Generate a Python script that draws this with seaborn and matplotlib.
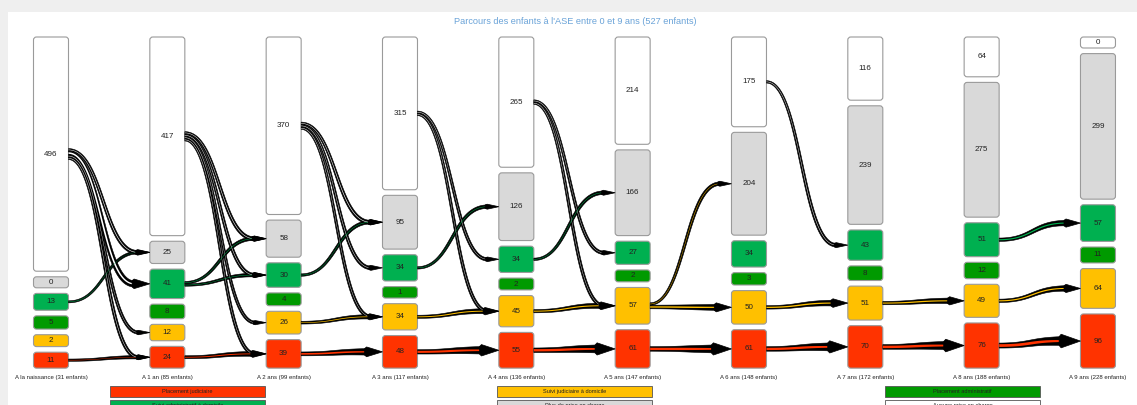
import numpy as np
import matplotlib
matplotlib.use("Agg")
import matplotlib.pyplot as plt
import seaborn as sns
from matplotlib.patches import FancyBboxPatch, Rectangle, Polygon

# --- données ---
ages = ["A la naissance", "A 1 an", "A 2 ans", "A 3 ans", "A 4 ans",
        "A 5 ans", "A 6 ans", "A 7 ans", "A 8 ans", "A 9 ans"]
categories = ["Aucune prise en charge", "Plus de prise en charge",
              "Suivi administratif à domicile", "Placement administratif",
              "Suivi judiciaire à domicile", "Placement judiciaire"]
couleurs = ["#ffffff", "#d9d9d9", "#00b050", "#009a00", "#ffc000", "#ff3300"]

aucune = [496, 417, 370, 315, 265, 214, 175, 116, 64, 0]
plus_pec = [0, 25, 58, 95, 126, 166, 204, 239, 275, 299]
suivi_adm = [13, 41, 30, 34, 34, 27, 34, 43, 51, 57]
placement_adm = [5, 8, 4, 1, 2, 2, 3, 8, 12, 11]
suivi_jud = [2, 12, 26, 34, 45, 57, 50, 51, 49, 64]
placement_jud = [11, 24, 39, 48, 55, 61, 61, 70, 76, 96]
effectifs = [aucune, plus_pec, suivi_adm, placement_adm, suivi_jud, placement_jud]
total = 527

# flux : étape de départ, catégorie de départ, catégorie d'arrivée, nb d'enfants
flux_etape = [0, 0, 0, 0, 0, 0,
              1, 1, 1, 1, 1, 1, 1,
              2, 2, 2, 2, 2, 2,
              3, 3, 3, 3, 3,
              4, 4, 4, 4, 4,
              5, 5, 5,
              6, 6, 6,
              7, 7,
              8, 8, 8]
flux_de = [0, 0, 0, 0, 2, 5,
           0, 0, 0, 0, 2, 2, 5,
           0, 0, 0, 2, 4, 5,
           0, 0, 2, 4, 5,
           0, 0, 2, 4, 5,
           4, 4, 5,
           0, 4, 5,
           4, 5,
           2, 4, 5]
flux_vers = [1, 2, 4, 5, 1, 5,
             1, 2, 4, 5, 1, 2, 5,
             1, 2, 4, 1, 4, 5,
             2, 4, 1, 4, 5,
             2, 4, 1, 4, 5,
             1, 4, 5,
             2, 4, 5,
             4, 5,
             2, 4, 5]
flux_n = [15, 35, 9, 12, 6, 10,
          14, 12, 8, 10, 12, 12, 22,
          15, 12, 10, 12, 18, 36,
          10, 10, 12, 24, 44,
          10, 10, 12, 26, 48,
          12, 32, 48,
          12, 30, 48,
          28, 50,
          28, 28, 55]

legende_ordre = [[5, 2], [4, 1], [3, 0]]

sns.set_style("white")
plt.rcParams["font.family"] = ["Liberation Sans", "DejaVu Sans"]

W, H = 1137, 405
fig = plt.figure(figsize=(W / 100, H / 100), dpi=100, facecolor="white")
ax = fig.add_axes([0, 0, 1, 1])
ax.patch.set_visible(False)

# échelles
pas_px = 116.33
x0_px = 51
px_par_enfant = 0.45
h_min = 11 / px_par_enfant
ecart = 5.6 / px_par_enfant
haut_px = 37
ax.set_xlim(-x0_px / pas_px, (W - x0_px) / pas_px)
ax.set_ylim((H - haut_px) / px_par_enfant, -haut_px / px_par_enfant)
ax.axis("off")

n_col = len(ages)
larg = 35 / pas_px
tops = np.zeros((6, n_col))
hauts = np.zeros((6, n_col))
for i in range(n_col):
    y = 0
    for c in range(6):
        h = h_min + effectifs[c][i]
        tops[c, i] = y
        hauts[c, i] = h
        y += h + ecart
bas = y - ecart

# boîtes
for i in range(n_col):
    for c in range(6):
        ax.add_patch(FancyBboxPatch(
            (i - larg / 2, tops[c, i]), larg, hauts[c, i],
            boxstyle=f"round,pad=0,rounding_size={3 / pas_px}",
            mutation_aspect=pas_px / px_par_enfant,
            fc=couleurs[c], ec="#9a9a9a", lw=0.8, zorder=2))
        ax.text(i, tops[c, i] + hauts[c, i] / 2, str(effectifs[c][i]),
                ha="center", va="center", fontsize=5.8, color="#222222", zorder=3)
    n_enf = total - aucune[i] - plus_pec[i]
    ax.text(i, bas + 9 / px_par_enfant, f"{ages[i]} ({n_enf} enfants)",
            ha="center", va="center", fontsize=4.3, color="#222222")

# flux
to_px = ax.transData.transform
to_data = ax.transData.inverted().transform


def courbe(p0, p3, n=90):
    t = np.linspace(0, 1, n)[:, None]
    mx = (p0[0] + p3[0]) / 2
    p1 = np.array([mx, p0[1]])
    p2 = np.array([mx, p3[1]])
    pts = (1 - t) ** 3 * p0 + 3 * (1 - t) ** 2 * t * p1 + 3 * (1 - t) * t ** 2 * p2 + t ** 3 * p3
    d = 3 * (1 - t) ** 2 * (p1 - p0) + 6 * (1 - t) * t * (p2 - p1) + 3 * t ** 2 * (p3 - p2)
    nrm = np.column_stack([-d[:, 1], d[:, 0]])
    nrm /= np.linalg.norm(nrm, axis=1)[:, None]
    return pts, nrm, t[:, 0]


def largeur(n):
    return 1.6 + 0.2 * n


sources = {}
for k in range(len(flux_n)):
    sources.setdefault((flux_etape[k], flux_de[k]), []).append(k)

for (e, c), ks in sources.items():
    ks = sorted(ks, key=lambda k: flux_vers[k])
    epais = [0.3 * largeur(flux_n[k]) + 1.2 for k in ks]
    src = to_px([[e + larg / 2, tops[c, e] + hauts[c, e] / 2]])[0]
    y_haut = src[1] + sum(epais) / 2
    cum = 0
    for k, t0 in zip(ks, epais):
        w = largeur(flux_n[k])
        v = flux_vers[k]
        p0 = np.array([src[0], y_haut - cum - t0 / 2])
        cum += t0
        tip = to_px([[e + 1 - larg / 2, tops[v, e + 1] + hauts[v, e + 1] / 2]])[0]
        L = 8 + 0.9 * w
        base = tip - np.array([L, 0])
        pts, nrm, t = courbe(p0, base)
        # contour noir qui s'élargit, liseré de la couleur d'origine au centre
        hw = (0.3 * w + 0.3 * w * t ** 1.5) / 2 + 0.6
        poly = np.vstack([pts + nrm * hw[:, None], (pts - nrm * hw[:, None])[::-1]])
        ax.add_patch(Polygon(to_data(poly), closed=True, fc="black", ec="black",
                             lw=0.4, zorder=4, joinstyle="round"))
        hi = np.clip(hw - 1.1, 0.25, None) * (1 - 0.7 * t)
        inner = np.vstack([pts + nrm * hi[:, None], (pts - nrm * hi[:, None])[::-1]])
        ax.add_patch(Polygon(to_data(inner), closed=True, fc=couleurs[c], ec="none",
                             zorder=4.5))
        tri = np.array([[base[0] - 2, base[1] + hw[-1]], [base[0], base[1] + w / 2 + 0.5],
                        tip, [base[0], base[1] - w / 2 - 0.5], [base[0] - 2, base[1] - hw[-1]]])
        ax.add_patch(Polygon(to_data(tri), closed=True, fc="black", ec="black",
                             lw=0.5, zorder=5))

# bandes grises du cadre
fig.add_artist(Rectangle((0, 1 - 12 / H), 1, 12 / H, transform=fig.transFigure,
                         fc="#efefef", ec="none", zorder=-5))
fig.add_artist(Rectangle((0, 0), 8 / W, 1, transform=fig.transFigure,
                         fc="#efefef", ec="none", zorder=-5))

fig.text(575 / W, 1 - 22 / H, "Parcours des enfants à l'ASE entre 0 et 9 ans (527 enfants)",
         ha="center", va="center", fontsize=6.6, color="#6aa3d8")

# légende
leg_x = [110, 497, 885]
leg_y = [386, 400]
for col, paire in enumerate(legende_ordre):
    for lig, c in enumerate(paire):
        x, y = leg_x[col], leg_y[lig]
        fig.add_artist(Rectangle((x / W, 1 - (y + 11) / H), 155 / W, 11 / H,
                                 transform=fig.transFigure, fc=couleurs[c],
                                 ec="#555555", lw=0.6))
        fig.text((x + 77.5) / W, 1 - (y + 5.5) / H, categories[c], ha="center",
                 va="center", fontsize=4.1, color="#222222")

fig.savefig("out.png", dpi=100)
